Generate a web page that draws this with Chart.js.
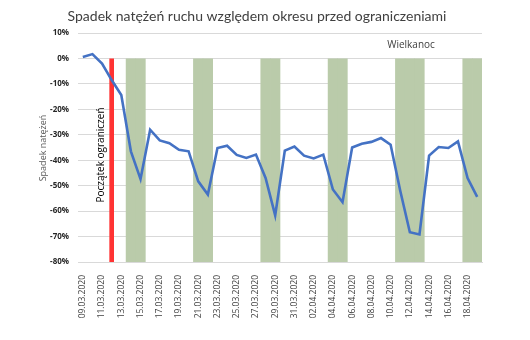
<!DOCTYPE html>
<html>
<head>
<meta charset="utf-8">
<script src="https://cdn.jsdelivr.net/npm/chart.js@4"></script>
<style>
  html, body { margin: 0; padding: 0; background: #fff; }
  #wrap { width: 530px; height: 340px; }
</style>
</head>
<body>
<div id="wrap"><canvas id="trafficChart" width="530" height="340"></canvas></div>
<script>
const dates = [
  '09.03.2020', '10.03.2020', '11.03.2020', '12.03.2020', '13.03.2020', '14.03.2020', '15.03.2020',
  '16.03.2020', '17.03.2020', '18.03.2020', '19.03.2020', '20.03.2020', '21.03.2020', '22.03.2020',
  '23.03.2020', '24.03.2020', '25.03.2020', '26.03.2020', '27.03.2020', '28.03.2020', '29.03.2020',
  '30.03.2020', '31.03.2020', '01.04.2020', '02.04.2020', '03.04.2020', '04.04.2020', '05.04.2020',
  '06.04.2020', '07.04.2020', '08.04.2020', '09.04.2020', '10.04.2020', '11.04.2020', '12.04.2020',
  '13.04.2020', '14.04.2020', '15.04.2020', '16.04.2020', '17.04.2020', '18.04.2020', '19.04.2020'
];
const trafficDrop = [
  0.6, 1.7, -2.0, -8.5, -14.4, -36.5, -47.4,
  -28.0, -32.2, -33.3, -35.9, -36.5, -48.3, -53.5,
  -35.2, -34.3, -37.9, -39.1, -37.8, -47.0, -61.7,
  -36.2, -34.6, -38.2, -39.3, -37.8, -51.5, -56.5,
  -35.0, -33.5, -32.8, -31.3, -33.9, -52.0, -68.3,
  -69.2, -38.2, -34.8, -35.2, -32.6, -47.0, -54.4
];
// weekends and Easter shaded in green
const freeDays = [
  '14.03.2020', '15.03.2020', '21.03.2020', '22.03.2020', '28.03.2020', '29.03.2020',
  '04.04.2020', '05.04.2020', '11.04.2020', '12.04.2020', '13.04.2020', '18.04.2020', '19.04.2020'
];
const restrictionsStart = '12.03.2020';
const yTicks = [10, 0, -10, -20, -30, -40, -50, -60, -70, -80];

const yMin = yTicks[yTicks.length - 1];
const yMax = yTicks[0];

const bandData = dates.map(d => freeDays.includes(d) ? yMin : null);
const startData = dates.map(d => d === restrictionsStart ? yMin : null);

const FONT = "'Open Sans', 'Liberation Sans', sans-serif";

// titles and annotations drawn by hand
const textPlugin = {
  id: 'texts',
  afterDraw(chart) {
    const ctx = chart.ctx;
    ctx.save();
    ctx.textAlign = 'center';
    ctx.textBaseline = 'middle';

    ctx.fillStyle = '#404040';
    ctx.font = "14px Lato, sans-serif";
    ctx.fillText('Spadek natężeń ruchu względem okresu przed ograniczeniami', 257, 16);

    ctx.font = '10px ' + FONT;
    ctx.fillText('Wielkanoc', 411, 45);

    ctx.save();
    ctx.translate(43, 148);
    ctx.rotate(-Math.PI / 2);
    ctx.fillStyle = '#595959';
    ctx.font = '9px ' + FONT;
    ctx.fillText('Spadek natężeń', 0, 0);
    ctx.restore();

    ctx.save();
    ctx.translate(101.5, 155);
    ctx.rotate(-Math.PI / 2);
    ctx.fillStyle = '#000';
    ctx.font = '10px ' + FONT;
    ctx.fillText('Początek ograniczeń', 0, 0);
    ctx.restore();

    ctx.restore();
  }
};

let ctx = document.getElementById('trafficChart').getContext('2d');
let trafficChart = new Chart(ctx, {
  type: 'bar',
  data: {
    labels: dates,
    datasets: [
      {
        type: 'line',
        label: 'Spadek natężeń',
        data: trafficDrop,
        borderColor: '#4472c4',
        borderWidth: 2.6,
        pointRadius: 0,
        tension: 0,
        order: 0
      },
      {
        label: 'Początek ograniczeń',
        data: startData,
        backgroundColor: '#ff3333',
        barThickness: 4,
        grouped: false,
        order: 1
      },
      {
        label: 'Dni wolne',
        data: bandData,
        backgroundColor: '#bacbaa',
        barPercentage: 1,
        categoryPercentage: 1,
        grouped: false,
        order: 2
      }
    ]
  },
  options: {
    responsive: false,
    animation: false,
    layout: { padding: { top: 33, right: 48, left: 0, bottom: 0 } },
    plugins: {
      legend: { display: false },
      title: { display: false },
      tooltip: { enabled: false }
    },
    scales: {
      x: {
        grid: { display: false },
        border: { color: '#d9d9d9' },
        ticks: {
          autoSkip: false,
          minRotation: 90,
          maxRotation: 90,
          padding: 5,
          color: '#404040',
          font: { family: FONT, size: 8.5 },
          callback: function (value, index) {
            return index % 2 === 0 ? this.getLabelForValue(value) : '';
          }
        },
        afterFit: s => { s.height = 78; }
      },
      y: {
        min: yMin,
        max: yMax,
        grid: { color: '#d9d9d9', drawTicks: false },
        border: { display: false },
        ticks: {
          stepSize: 10,
          padding: 9,
          color: '#262626',
          font: { family: FONT, size: 8, weight: 'bold' },
          callback: v => v + '%'
        },
        afterFit: s => { s.width = 78; }
      }
    }
  },
  plugins: [textPlugin]
});
</script>
</body>
</html>
